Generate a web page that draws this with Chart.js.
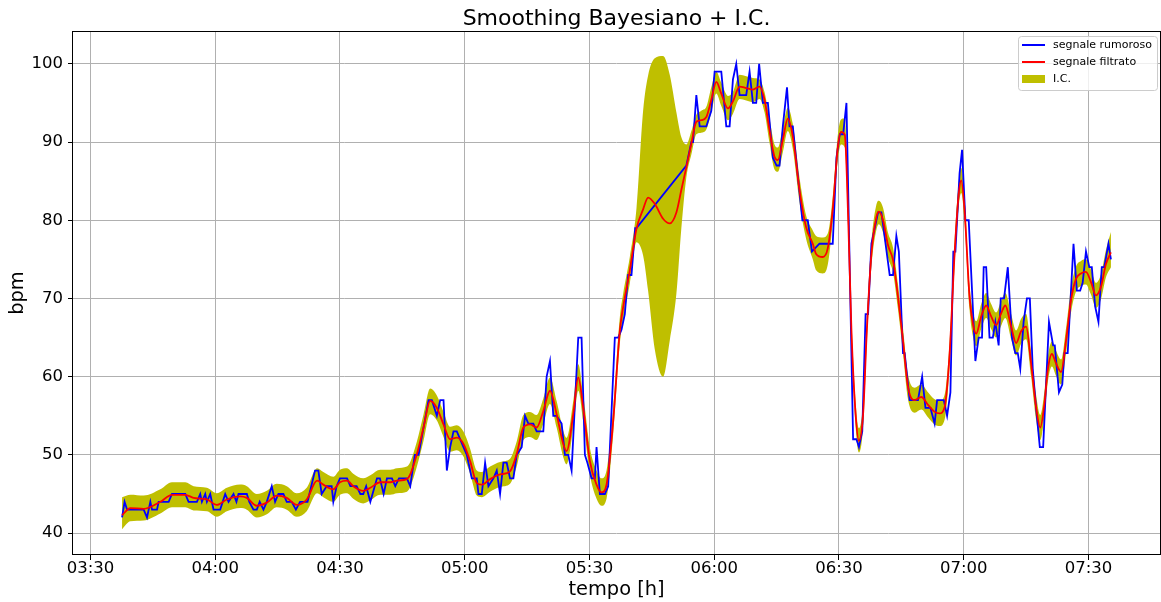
<!DOCTYPE html>
<html>
<head>
<meta charset="utf-8">
<script src="https://cdn.jsdelivr.net/npm/chart.js@4.4.1/dist/chart.umd.min.js"></script>
<style>
  html, body { margin: 0; padding: 0; background: #fff; }
  #wrap { width: 1161px; height: 602px; position: relative; }
</style>
</head>
<body>
<div id="wrap"><canvas id="chart"></canvas></div>
<script>
// time is in minutes after 03:30

// raw heart rate samples (blue)
const rawTime = [7.6,8.2,8.8,12.8,13.6,14.4,14.8,16.0,16.4,18.8,19.6,22.8,23.6,25.6,26.4,26.8,27.6,28.0,28.8,29.6,31.2,32.4,33.2,34.4,35.1,35.6,37.6,38.2,39.2,40.0,40.7,41.6,42.4,43.6,44.4,45.2,46.4,47.2,48.4,49.4,50.4,52.2,54.0,54.8,55.6,56.8,58.0,58.4,59.2,60.0,61.7,62.5,64.0,64.9,65.6,66.3,67.3,68.9,69.6,70.5,71.3,72.5,73.3,74.2,76.1,76.9,78.0,78.9,81.3,82.1,83.3,84.1,84.9,85.7,86.5,87.3,88.1,89.7,90.5,91.7,92.9,93.3,94.1,94.9,95.7,96.9,97.7,98.5,99.3,100.1,100.9,101.7,102.5,103.7,104.5,105.3,106.5,107.3,108.9,109.7,110.5,111.3,112.1,113.3,114.1,114.9,115.7,117.3,118.1,118.9,119.5,120.5,121.3,121.7,122.5,123.7,124.5,126.1,126.9,127.7,128.5,129.3,130.1,131.0,131.3,143.3,144.5,144.9,145.7,146.5,148.1,149.3,150.1,151.7,152.9,153.7,154.5,155.3,156.1,157.7,158.5,159.3,160.1,160.8,161.7,162.9,164.1,165.0,165.7,166.5,167.5,168.1,168.9,171.2,172.5,173.5,175.3,178.5,179.4,180.2,181.0,181.8,183.4,184.2,184.8,185.6,186.4,187.0,187.8,189.4,190.2,192.2,193.0,193.8,194.4,195.4,195.8,197.0,199.0,200.0,200.8,202.0,203.0,203.6,205.2,206.0,206.8,207.5,208.0,209.0,209.6,210.4,211.2,212.8,213.6,214.4,214.8,215.4,216.2,217.0,217.6,218.4,218.9,219.7,220.6,221.6,222.4,223.0,223.6,224.4,225.2,225.9,226.6,227.4,228.3,229.1,230.5,231.5,231.9,232.9,233.7,234.2,235.0,236.4,237.2,238.0,238.6,239.4,240.2,240.8,241.6,242.4,243.2,243.8,244.8,245.4];
const rawBpm = [42,44,43,43,42,44,43,43,44,44,45,45,44,44,45,44,45,44,45,43,43,45,44,45,44,45,45,44,43,43,44,43,44,46,44,45,45,44,44,43,44,44,48,48,45,46,46,44,46,47,47,46,46,45,45,46,44,47,47,45,47,47,46,47,47,46,50,50,57,57,55,57,57,48,51,53,53,51,50,47,47,45,45,49,46,47,48,45,49,49,47,47,50,51,55,54,54,53,53,60,62,55,55,54,50,50,48,65,65,50,49,47,47,51,45,45,46,65,65,66,68,73,73,79,79,87,90,90,96,92,92,94,99,99,92,92,98,100,96,96,99,95,95,100,95,95,88,87,87,92,97,92,92,80,80,76,77,77,88,91,91,95,52,52,51,53,68,68,77,81,81,73,73,78,76,63,63,57,57,60,56,56,54,57,57,55,58,76,76,86,89,80,80,62,65,65,74,74,65,65,67,64,70,70,74,65,63,63,61,67,70,70,61,56,51,51,67,64,64,58,59,63,63,77,71,71,72,76,74,74,69,67,74,74,77,75];

// smoothed estimate (red) and its interval bounds
const smoothTime = [7.6,9.6,12.8,16.8,19.6,22.8,24.8,28.0,30.4,32.8,36.0,37.6,40.0,42.4,44.8,47.2,49.6,52.0,54.5,56.0,58.4,60.0,61.7,63.2,65.6,67.3,69.7,72.1,73.7,76.1,76.9,78.5,80.1,81.7,83.3,84.9,86.5,88.1,89.7,91.3,92.9,94.1,96.1,98.5,100.9,102.5,104.1,105.7,107.3,108.9,110.5,112.1,113.7,114.5,116.1,117.3,118.5,120.1,121.7,122.9,124.1,125.7,127.3,128.1,129.7,131.3,132.9,134.1,135.7,137.7,139.3,140.9,142.1,143.3,144.5,145.7,146.9,148.1,149.3,150.5,151.7,153.3,154.5,156.1,157.7,159.3,160.9,162.1,163.3,164.5,165.3,166.5,167.7,168.9,170.5,172.1,173.7,174.5,176.1,177.3,178.5,179.7,180.5,181.4,182.2,183.0,184.0,184.8,185.8,186.7,187.8,189.0,189.6,190.6,191.8,193.0,194.2,195.4,196.6,198.2,199.8,201.4,203.0,204.2,205.4,206.6,207.8,208.8,209.4,210.2,211.4,212.2,213.0,214.2,215.4,216.6,217.8,219.0,220.0,221.4,222.6,223.8,225.0,226.2,227.4,228.4,229.4,230.2,231.2,232.2,233.4,234.6,235.8,237.0,238.2,239.4,240.6,241.8,243.0,244.2,245.4];
const smoothBpm = [42.3,43.2,43.1,44.0,44.9,44.9,44.5,44.3,43.6,44.3,44.7,44.5,43.5,43.9,44.8,44.5,43.6,44.3,46.7,46.2,45.6,46.5,46.7,46.0,45.4,45.8,46.5,46.5,46.7,46.9,47.5,50.1,53.5,56.9,56.0,53.9,52.0,52.2,51.4,49.2,46.4,46.2,46.9,47.5,47.9,50.1,53.5,53.9,53.5,55.6,58.2,55.2,51.4,50.5,55.2,59.9,56.0,49.2,46.2,45.2,46.2,54.3,65.9,68.9,73.6,78.9,81.4,82.9,82.1,80.2,79.6,81.0,83.9,86.8,89.8,92.6,92.8,93.2,95.4,97.7,96.2,94.3,95.2,97.1,96.9,96.7,97.1,95.4,91.5,88.1,87.7,90.3,93.0,90.7,83.9,79.1,77.0,75.7,75.3,76.4,81.4,89.2,91.3,90.9,80.6,65.9,55.2,51.8,55.2,65.9,75.7,80.4,81.1,80.0,76.8,74.9,70.2,64.6,58.7,57.0,57.4,56.4,55.5,55.3,56.1,62.9,75.7,83.4,85.1,81.3,70.2,66.8,65.5,67.7,69.1,67.7,66.6,68.1,69.1,66.4,64.3,65.8,66.4,61.7,56.1,53.5,56.5,60.8,62.9,61.7,60.6,64.6,69.8,72.5,73.2,73.4,72.1,70.4,71.5,74.4,75.9];
const ciLow = [40.5,41.5,41.6,42.5,43.3,43.3,42.9,42.8,42.1,42.8,43.2,43.0,42.0,42.4,43.3,43.0,42.1,42.8,45.1,44.6,44.0,44.9,45.1,44.4,43.8,44.2,44.9,44.9,45.1,45.3,45.9,48.5,51.8,55.2,54.4,52.3,50.4,50.6,49.8,47.6,44.8,44.6,45.3,45.9,46.3,48.5,51.9,52.3,51.9,54.0,56.5,53.5,49.7,48.8,53.5,58.2,54.3,47.5,44.4,43.5,44.4,52.6,64.2,67.2,71.9,77.2,75.5,71.0,63.5,60.0,64.6,70.6,79.0,85.5,88.4,91.0,91.2,91.6,93.8,96.2,94.6,92.8,93.6,95.5,95.3,95.1,95.5,93.8,89.9,86.5,86.2,88.7,91.4,89.1,82.3,77.6,75.0,73.6,73.2,74.3,79.8,87.6,89.7,89.3,79.0,64.3,53.6,50.3,53.6,64.3,74.1,78.8,79.5,78.4,75.2,73.3,68.6,63.0,57.1,55.4,55.8,54.8,53.9,53.7,54.5,61.3,74.1,81.8,83.5,79.7,68.6,65.2,63.9,66.1,67.5,66.1,65.0,66.5,67.5,64.8,62.7,64.2,64.8,60.1,54.5,51.9,54.9,59.2,61.3,60.1,59.0,63.0,68.2,70.9,71.6,71.8,70.5,68.8,69.9,72.7,74.0];
const ciHigh = [44.6,44.9,44.8,45.6,46.5,46.5,46.0,45.8,45.1,45.8,46.2,46.0,45.0,45.4,46.3,46.0,45.1,45.8,48.3,47.8,47.2,48.1,48.3,47.6,47.0,47.4,48.1,48.1,48.3,48.5,49.1,51.7,55.2,58.5,57.6,55.5,53.6,53.8,53.0,50.8,48.0,47.8,48.5,49.1,49.5,51.7,55.1,55.5,55.1,57.2,59.9,56.9,53.1,52.2,56.9,61.6,57.7,50.9,48.0,47.0,48.0,56.0,67.6,70.6,75.3,81.5,94.0,98.5,100.7,101.0,98.6,93.8,90.6,89.7,91.4,93.5,94.0,94.5,97.0,99.0,97.6,95.9,96.4,98.6,98.4,98.2,98.0,96.4,93.0,89.7,89.3,91.9,94.4,92.3,85.5,80.6,78.7,78.0,77.8,78.3,83.0,90.8,92.9,93.0,82.2,67.5,56.8,53.4,56.8,67.5,77.3,82.0,82.5,81.6,78.4,76.5,71.8,66.2,60.3,58.6,59.0,58.0,57.1,56.9,57.7,64.5,77.3,85.0,86.7,82.9,71.8,68.4,67.1,69.3,70.7,69.3,68.2,69.7,70.7,68.0,65.9,67.4,68.0,63.3,57.7,55.1,58.1,62.4,64.5,63.3,62.2,66.2,71.4,74.1,74.8,75.0,73.7,72.0,73.1,76.2,78.5];

const tickMinutes = [0, 30, 60, 90, 120, 150, 180, 210, 240];
const tickLabels = ['03:30', '04:00', '04:30', '05:00', '05:30', '06:00', '06:30', '07:00', '07:30'];
const bpmTicks = [40, 50, 60, 70, 80, 90, 100];

const FONT = '"DejaVu Sans", sans-serif';

function toPoints(xs, ys) {
    return xs.map((x, i) => ({ x: x, y: ys[i] }));
}

// title, axis labels, frame and legend are painted by hand
const decorPlugin = {
    id: 'decor',
    afterDraw(chart) {
        const { ctx, chartArea: a } = chart;
        ctx.save();

        ctx.strokeStyle = '#000';
        ctx.lineWidth = 1;
        ctx.strokeRect(Math.round(a.left) - 0.5, Math.round(a.top) + 0.5,
            Math.round(a.right - a.left) + 1, Math.round(a.bottom - a.top) - 1);

        ctx.fillStyle = '#000';
        ctx.textAlign = 'center';
        ctx.textBaseline = 'alphabetic';
        ctx.font = '22px ' + FONT;
        ctx.fillText('Smoothing Bayesiano + I.C.', (a.left + a.right) / 2, 25);

        ctx.font = '19.4px ' + FONT;
        ctx.textBaseline = 'middle';
        ctx.fillText('tempo [h]', (a.left + a.right) / 2, 590);
        ctx.save();
        ctx.translate(18, (a.top + a.bottom) / 2);
        ctx.rotate(-Math.PI / 2);
        ctx.fillText('bpm', 0, 0);
        ctx.restore();

        // legend box
        const lx = 1018, ly = 36, lw = 139, lh = 54;
        ctx.beginPath();
        ctx.roundRect(lx + 0.5, ly + 0.5, lw, lh, 3);
        ctx.fillStyle = 'rgba(255,255,255,0.8)';
        ctx.fill();
        ctx.strokeStyle = '#cccccc';
        ctx.stroke();

        const rows = [
            { y: 45, kind: 'line', color: '#0000ff', text: 'segnale rumoroso' },
            { y: 62, kind: 'line', color: '#ff0000', text: 'segnale filtrato' },
            { y: 79, kind: 'patch', color: '#bfbf00', text: 'I.C.' }
        ];
        ctx.font = '11px ' + FONT;
        ctx.textAlign = 'left';
        ctx.textBaseline = 'middle';
        rows.forEach(r => {
            if (r.kind === 'line') {
                ctx.strokeStyle = r.color;
                ctx.lineWidth = 2;
                ctx.beginPath();
                ctx.moveTo(1022, r.y);
                ctx.lineTo(1045, r.y);
                ctx.stroke();
            } else {
                ctx.fillStyle = r.color;
                ctx.fillRect(1022, r.y - 4, 23, 8);
            }
            ctx.fillStyle = '#000';
            ctx.fillText(r.text, 1053, r.y);
        });

        ctx.restore();
    }
};

new Chart(document.getElementById('chart'), {
    type: 'line',
    data: {
        datasets: [
            {
                label: 'segnale filtrato',
                data: toPoints(smoothTime, smoothBpm),
                borderColor: '#ff0000',
                borderWidth: 1.8,
                pointRadius: 0,
                cubicInterpolationMode: 'monotone',
                fill: false,
                order: 0
            },
            {
                label: 'segnale rumoroso',
                data: toPoints(rawTime, rawBpm),
                borderColor: '#0000ff',
                borderWidth: 1.8,
                pointRadius: 0,
                tension: 0,
                fill: false,
                order: 1
            },
            {
                label: 'I.C.',
                data: toPoints(smoothTime, ciHigh),
                borderWidth: 0,
                borderColor: 'rgba(0,0,0,0)',
                backgroundColor: '#bfbf00',
                pointRadius: 0,
                cubicInterpolationMode: 'monotone',
                fill: '+1',
                order: 2
            },
            {
                label: 'I.C. low',
                data: toPoints(smoothTime, ciLow),
                borderWidth: 0,
                borderColor: 'rgba(0,0,0,0)',
                pointRadius: 0,
                cubicInterpolationMode: 'monotone',
                fill: false,
                order: 3
            }
        ]
    },
    options: {
        responsive: true,
        maintainAspectRatio: false,
        animation: false,
        events: [],
        layout: { padding: { top: 31, right: 1, left: 0, bottom: 0 } },
        plugins: {
            legend: { display: false },
            tooltip: { enabled: false },
            title: { display: false }
        },
        scales: {
            x: {
                type: 'linear',
                min: -4.2,
                max: 257.2,
                afterBuildTicks: s => { s.ticks = tickMinutes.map(v => ({ value: v })); },
                afterFit: s => { s.height = 47; },
                grid: { color: '#b0b0b0', lineWidth: 1, drawTicks: true, tickLength: 5, tickColor: '#000' },
                border: { display: false },
                ticks: {
                    autoSkip: false,
                    maxRotation: 0,
                    padding: -1,
                    color: '#000',
                    font: { family: FONT, size: 16.5 },
                    callback: v => tickLabels[tickMinutes.indexOf(v)] || ''
                }
            },
            y: {
                min: 37.2,
                max: 104.2,
                afterBuildTicks: s => { s.ticks = bpmTicks.map(v => ({ value: v })); },
                afterFit: s => { s.width = 73; },
                grid: { color: '#b0b0b0', lineWidth: 1, drawTicks: true, tickLength: 5, tickColor: '#000' },
                border: { display: false },
                ticks: {
                    padding: 5,
                    color: '#000',
                    font: { family: FONT, size: 16.5 },
                    callback: v => String(v)
                }
            }
        }
    },
    plugins: [decorPlugin]
});
</script>
</body>
</html>
